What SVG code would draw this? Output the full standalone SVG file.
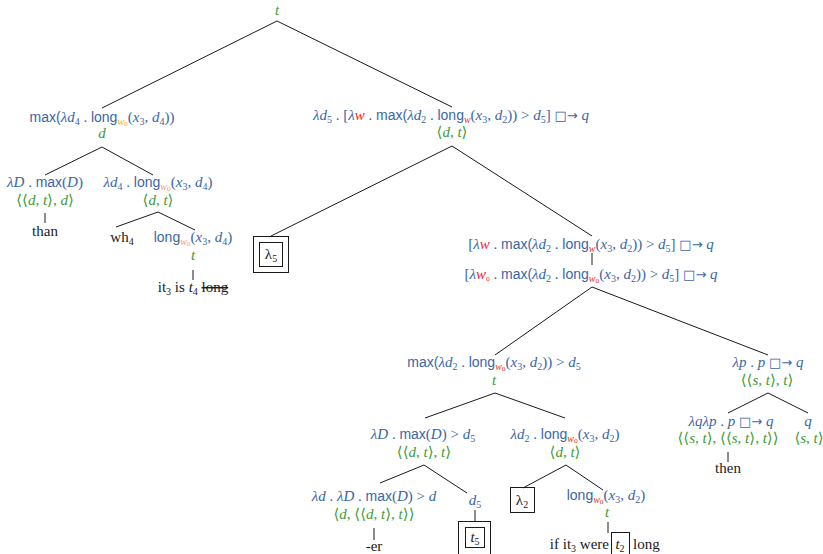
<svg xmlns="http://www.w3.org/2000/svg" width="823" height="554" viewBox="0 0 823 554">
<style>
text{font-family:'Liberation Serif','Times New Roman','DejaVu Serif',serif;font-size:15px}
.B{fill:#3b66a3}.G{fill:#3d9a36}.K{fill:#1a1a1a}.O{fill:#f5a043}.R{fill:#ea2b2b}
.sf{font-family:'Liberation Sans',Arial,sans-serif;font-size:14px}
.it{font-style:italic}
.sb{font-size:10px}.ss{font-size:7.5px}
.sy{font-family:'DejaVu Sans',sans-serif;font-size:13px}
.e line{stroke:#1a1a1a;stroke-width:1}
.bx{fill:none;stroke:#1a1a1a;stroke-width:1}
</style>
<g class="e" id="connectors">
<line x1="277" y1="21" x2="102" y2="108"/>
<line x1="277" y1="21" x2="452" y2="107"/>
<line x1="102" y1="147" x2="45" y2="175"/>
<line x1="102" y1="147" x2="153" y2="175"/>
<line x1="45" y1="213" x2="45" y2="223"/>
<line x1="158" y1="212" x2="116" y2="227"/>
<line x1="158" y1="212" x2="195" y2="230"/>
<line x1="193" y1="270" x2="193" y2="280"/>
<line x1="452" y1="146" x2="271" y2="236"/>
<line x1="452" y1="146" x2="592" y2="236"/>
<line x1="592" y1="253" x2="592" y2="265"/>
<line x1="592" y1="287" x2="495" y2="355"/>
<line x1="592" y1="287" x2="768" y2="355"/>
<line x1="495" y1="393" x2="425" y2="418"/>
<line x1="495" y1="393" x2="565" y2="418"/>
<line x1="768" y1="393" x2="728" y2="413"/>
<line x1="768" y1="393" x2="808" y2="413"/>
<line x1="728" y1="452" x2="728" y2="462"/>
<line x1="424" y1="465" x2="380" y2="483"/>
<line x1="424" y1="465" x2="467" y2="493"/>
<line x1="566" y1="465" x2="523" y2="488"/>
<line x1="566" y1="465" x2="603" y2="490"/>
<line x1="374" y1="528" x2="374" y2="540"/>
<line x1="475" y1="510" x2="475" y2="521"/>
<line x1="608" y1="522" x2="608" y2="533"/>
</g>
<g id="root"><text x="277" y="15" text-anchor="middle" class="G it">t</text></g>
<g id="n1">
<text x="102" y="122" text-anchor="middle" class="B"><tspan class="sf">max(</tspan><tspan class="it">λd</tspan><tspan class="sb" dy="3">4</tspan><tspan dy="-3"> . </tspan><tspan class="sf">long</tspan><tspan class="it O sb" dy="3">w</tspan><tspan class="O ss" dy="1">o</tspan><tspan dy="-4">(</tspan><tspan class="it">x</tspan><tspan class="sb" dy="3">3</tspan><tspan dy="-3">, </tspan><tspan class="it">d</tspan><tspan class="sb" dy="3">4</tspan><tspan dy="-3">))</tspan></text>
<text x="102" y="138" text-anchor="middle" class="G it">d</text>
</g>
<g id="n2">
<text x="451" y="120" text-anchor="middle" class="B"><tspan class="it">λd</tspan><tspan class="sb" dy="3">5</tspan><tspan dy="-3"> . [</tspan><tspan class="it">λ</tspan><tspan class="it R">w</tspan><tspan> . </tspan><tspan class="sf">max(</tspan><tspan class="it">λd</tspan><tspan class="sb" dy="3">2</tspan><tspan dy="-3"> . </tspan><tspan class="sf">long</tspan><tspan class="it R sb" dy="3">w</tspan><tspan dy="-3">(</tspan><tspan class="it">x</tspan><tspan class="sb" dy="3">3</tspan><tspan dy="-3">, </tspan><tspan class="it">d</tspan><tspan class="sb" dy="3">2</tspan><tspan dy="-3">)) &gt; </tspan><tspan class="it">d</tspan><tspan class="sb" dy="3">5</tspan><tspan dy="-3">] </tspan><tspan class="sy">□→</tspan><tspan class="it"> q</tspan></text>
<text x="452" y="137" text-anchor="middle" class="G">⟨<tspan class="it">d</tspan>, <tspan class="it">t</tspan>⟩</text>
</g>
<g id="n3">
<text x="45" y="187" text-anchor="middle" class="B"><tspan class="it">λD</tspan> . <tspan class="sf">max</tspan>(<tspan class="it">D</tspan>)</text>
<text x="45" y="205" text-anchor="middle" class="G">⟨⟨<tspan class="it">d</tspan>, <tspan class="it">t</tspan>⟩, <tspan class="it">d</tspan>⟩</text>
</g>
<g id="n_than"><text x="45" y="236" text-anchor="middle" class="K">than</text></g>
<g id="n4">
<text x="158" y="187" text-anchor="middle" class="B"><tspan class="it">λd</tspan><tspan class="sb" dy="3">4</tspan><tspan dy="-3"> . </tspan><tspan class="sf">long</tspan><tspan class="it O sb" dy="3">w</tspan><tspan class="O ss" dy="1">o</tspan><tspan dy="-4">(</tspan><tspan class="it">x</tspan><tspan class="sb" dy="3">3</tspan><tspan dy="-3">, </tspan><tspan class="it">d</tspan><tspan class="sb" dy="3">4</tspan><tspan dy="-3">)</tspan></text>
<text x="158" y="205" text-anchor="middle" class="G">⟨<tspan class="it">d</tspan>, <tspan class="it">t</tspan>⟩</text>
</g>
<g id="n_wh"><text x="122" y="242" text-anchor="middle" class="K">wh<tspan class="sb" dy="3">4</tspan></text></g>
<g id="n5">
<text x="193" y="242" text-anchor="middle" class="B"><tspan class="sf">long</tspan><tspan class="it O sb" dy="3">w</tspan><tspan class="O ss" dy="1">o</tspan><tspan dy="-4">(</tspan><tspan class="it">x</tspan><tspan class="sb" dy="3">3</tspan><tspan dy="-3">, </tspan><tspan class="it">d</tspan><tspan class="sb" dy="3">4</tspan><tspan dy="-3">)</tspan></text>
<text x="193" y="260" text-anchor="middle" class="G it">t</text>
</g>
<g id="n_it"><text x="193" y="292" text-anchor="middle" class="K">it<tspan class="sb" dy="3">3</tspan><tspan dy="-3"> is </tspan><tspan class="it">t</tspan><tspan class="sb" dy="3">4</tspan><tspan dy="-3"> </tspan><tspan text-decoration="line-through">long</tspan></text></g>
<g id="n_lambda5">
<rect class="bx" x="253.5" y="236.5" width="35" height="36"/>
<rect class="bx" x="259.5" y="242.5" width="23" height="24"/>
<text x="271" y="259" text-anchor="middle" class="K">λ<tspan class="sb" dy="3">5</tspan></text>
</g>
<g id="n6">
<text x="591" y="249" text-anchor="middle" class="B">[<tspan class="it">λ</tspan><tspan class="it R">w</tspan><tspan> . </tspan><tspan class="sf">max(</tspan><tspan class="it">λd</tspan><tspan class="sb" dy="3">2</tspan><tspan dy="-3"> . </tspan><tspan class="sf">long</tspan><tspan class="it R sb" dy="3">w</tspan><tspan dy="-3">(</tspan><tspan class="it">x</tspan><tspan class="sb" dy="3">3</tspan><tspan dy="-3">, </tspan><tspan class="it">d</tspan><tspan class="sb" dy="3">2</tspan><tspan dy="-3">)) &gt; </tspan><tspan class="it">d</tspan><tspan class="sb" dy="3">5</tspan><tspan dy="-3">] </tspan><tspan class="sy">□→</tspan><tspan class="it"> q</tspan></text>
<text x="591" y="279" text-anchor="middle" class="B">[<tspan class="it">λ</tspan><tspan class="it R">w</tspan><tspan class="R ss" dy="2">o</tspan><tspan dy="-2"> . </tspan><tspan class="sf">max(</tspan><tspan class="it">λd</tspan><tspan class="sb" dy="3">2</tspan><tspan dy="-3"> . </tspan><tspan class="sf">long</tspan><tspan class="it R sb" dy="3">w</tspan><tspan class="R ss" dy="1">o</tspan><tspan dy="-4">(</tspan><tspan class="it">x</tspan><tspan class="sb" dy="3">3</tspan><tspan dy="-3">, </tspan><tspan class="it">d</tspan><tspan class="sb" dy="3">2</tspan><tspan dy="-3">)) &gt; </tspan><tspan class="it">d</tspan><tspan class="sb" dy="3">5</tspan><tspan dy="-3">] </tspan><tspan class="sy">□→</tspan><tspan class="it"> q</tspan></text>
</g>
<g id="n7">
<text x="494" y="367" text-anchor="middle" class="B"><tspan class="sf">max(</tspan><tspan class="it">λd</tspan><tspan class="sb" dy="3">2</tspan><tspan dy="-3"> . </tspan><tspan class="sf">long</tspan><tspan class="it R sb" dy="3">w</tspan><tspan class="R ss" dy="1">o</tspan><tspan dy="-4">(</tspan><tspan class="it">x</tspan><tspan class="sb" dy="3">3</tspan><tspan dy="-3">, </tspan><tspan class="it">d</tspan><tspan class="sb" dy="3">2</tspan><tspan dy="-3">)) &gt; </tspan><tspan class="it">d</tspan><tspan class="sb" dy="3">5</tspan></text>
<text x="494" y="385" text-anchor="middle" class="G it">t</text>
</g>
<g id="n8">
<text x="768" y="367" text-anchor="middle" class="B"><tspan class="it">λp</tspan> . <tspan class="it">p </tspan><tspan class="sy">□→</tspan><tspan class="it"> q</tspan></text>
<text x="767" y="385" text-anchor="middle" class="G">⟨⟨<tspan class="it">s</tspan>, <tspan class="it">t</tspan>⟩, <tspan class="it">t</tspan>⟩</text>
</g>
<g id="n9">
<text x="423" y="439" text-anchor="middle" class="B"><tspan class="it">λD</tspan> . <tspan class="sf">max</tspan>(<tspan class="it">D</tspan>) &gt; <tspan class="it">d</tspan><tspan class="sb" dy="3">5</tspan></text>
<text x="424" y="457" text-anchor="middle" class="G">⟨⟨<tspan class="it">d</tspan>, <tspan class="it">t</tspan>⟩, <tspan class="it">t</tspan>⟩</text>
</g>
<g id="n10">
<text x="565" y="439" text-anchor="middle" class="B"><tspan class="it">λd</tspan><tspan class="sb" dy="3">2</tspan><tspan dy="-3"> . </tspan><tspan class="sf">long</tspan><tspan class="it R sb" dy="3">w</tspan><tspan class="R ss" dy="1">o</tspan><tspan dy="-4">(</tspan><tspan class="it">x</tspan><tspan class="sb" dy="3">3</tspan><tspan dy="-3">, </tspan><tspan class="it">d</tspan><tspan class="sb" dy="3">2</tspan><tspan dy="-3">)</tspan></text>
<text x="565" y="457" text-anchor="middle" class="G">⟨<tspan class="it">d</tspan>, <tspan class="it">t</tspan>⟩</text>
</g>
<g id="n11">
<text x="731" y="426" text-anchor="middle" class="B"><tspan class="it">λqλp</tspan> . <tspan class="it">p </tspan><tspan class="sy">□→</tspan><tspan class="it"> q</tspan></text>
<text x="728" y="443" text-anchor="middle" class="G">⟨⟨<tspan class="it">s</tspan>, <tspan class="it">t</tspan>⟩, ⟨⟨<tspan class="it">s</tspan>, <tspan class="it">t</tspan>⟩, <tspan class="it">t</tspan>⟩⟩</text>
</g>
<g id="n12">
<text x="808" y="426" text-anchor="middle" class="B it">q</text>
<text x="809" y="443" text-anchor="middle" class="G">⟨<tspan class="it">s</tspan>, <tspan class="it">t</tspan>⟩</text>
</g>
<g id="n_then"><text x="728" y="473" text-anchor="middle" class="K">then</text></g>
<g id="n13">
<text x="374" y="501" text-anchor="middle" class="B"><tspan class="it">λd</tspan> . <tspan class="it">λD</tspan> . <tspan class="sf">max</tspan>(<tspan class="it">D</tspan>) &gt; <tspan class="it">d</tspan></text>
<text x="374" y="519" text-anchor="middle" class="G">⟨<tspan class="it">d</tspan>, ⟨⟨<tspan class="it">d</tspan>, <tspan class="it">t</tspan>⟩, <tspan class="it">t</tspan>⟩⟩</text>
</g>
<g id="n_er"><text x="374" y="551" text-anchor="middle" class="K">-er</text></g>
<g id="n14"><text x="475" y="505" text-anchor="middle" class="B"><tspan class="it">d</tspan><tspan class="sb" dy="3">5</tspan></text></g>
<g id="n_t5">
<rect class="bx" x="458.5" y="521.5" width="32" height="40"/>
<rect class="bx" x="465.5" y="527.5" width="19" height="20"/>
<text x="475" y="542" text-anchor="middle" class="K"><tspan class="it">t</tspan><tspan class="sb" dy="3">5</tspan></text>
</g>
<g id="n_lambda2">
<rect class="bx" x="510.5" y="487.5" width="24" height="25"/>
<text x="522" y="505" text-anchor="middle" class="K">λ<tspan class="sb" dy="3">2</tspan></text>
</g>
<g id="n15">
<text x="606" y="500" text-anchor="middle" class="B"><tspan class="sf">long</tspan><tspan class="it R sb" dy="3">w</tspan><tspan class="R ss" dy="1">o</tspan><tspan dy="-4">(</tspan><tspan class="it">x</tspan><tspan class="sb" dy="3">3</tspan><tspan dy="-3">, </tspan><tspan class="it">d</tspan><tspan class="sb" dy="3">2</tspan><tspan dy="-3">)</tspan></text>
<text x="607" y="517" text-anchor="middle" class="G it">t</text>
</g>
<g id="n_if">
<text x="609" y="549" text-anchor="end" class="K">if it<tspan class="sb" dy="3">3</tspan><tspan dy="-3"> were</tspan></text>
<rect class="bx" x="611.5" y="532.5" width="18" height="24"/>
<text x="620" y="549" text-anchor="middle" class="K"><tspan class="it">t</tspan><tspan class="sb" dy="3">2</tspan></text>
<text x="633" y="549" class="K">long</text>
</g>
</svg>
